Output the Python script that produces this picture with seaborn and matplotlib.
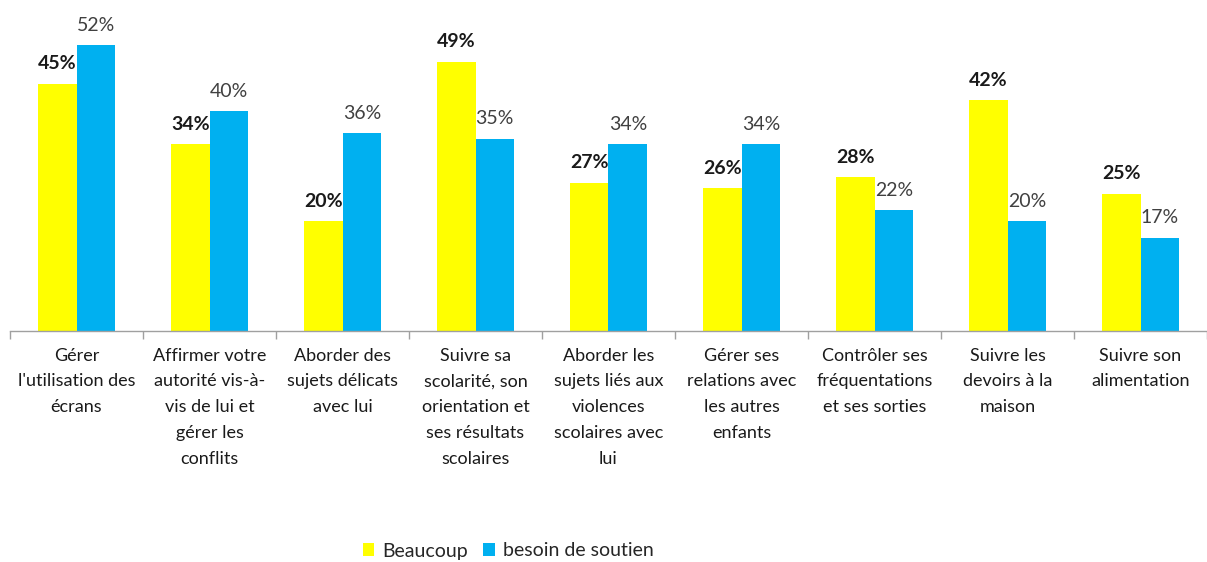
import matplotlib
matplotlib.use("Agg")
import matplotlib.pyplot as plt
import seaborn as sns
import pandas as pd
from matplotlib.patches import Patch

categories = [
    "Gérer\nl'utilisation des\nécrans",
    "Affirmer votre\nautorité vis-à-\nvis de lui et\ngérer les\nconflits",
    "Aborder des\nsujets délicats\navec lui",
    "Suivre sa\nscolarité, son\norientation et\nses résultats\nscolaires",
    "Aborder les\nsujets liés aux\nviolences\nscolaires avec\nlui",
    "Gérer ses\nrelations avec\nles autres\nenfants",
    "Contrôler ses\nfréquentations\net ses sorties",
    "Suivre les\ndevoirs à la\nmaison",
    "Suivre son\nalimentation",
]
beaucoup = [45, 34, 20, 49, 27, 26, 28, 42, 25]
soutien = [52, 40, 36, 35, 34, 34, 22, 20, 17]
series = ["Beaucoup", "besoin de soutien"]
colors = ["#FFFF00", "#00B0F0"]

df = pd.DataFrame({
    "cat": categories * 2,
    "serie": [series[0]] * len(categories) + [series[1]] * len(categories),
    "val": beaucoup + soutien,
})

sns.set_style("white")
plt.rcParams["font.family"] = ["Lato", "DejaVu Sans"]

fig = plt.figure(figsize=(12.07, 5.62), dpi=100)
ax = fig.add_axes([10 / 1207, 1 - 331 / 562, 1 - 10 / 1207, 331 / 562])

sns.barplot(data=df, x="cat", y="val", hue="serie", palette=colors,
            width=0.58, gap=0, saturation=1, legend=False, linewidth=0, ax=ax)

for i, cont in enumerate(ax.containers):
    if i == 0:
        ax.bar_label(cont, labels=[f"{v}%" for v in beaucoup], padding=8,
                     fontsize=14, fontweight="bold", color="#1a1a1a")
    else:
        ax.bar_label(cont, labels=[f"{v}%" for v in soutien], padding=8,
                     fontsize=14, color="#404040")

ax.set_ylim(0, 60.2)
ax.set_xlim(-0.5, len(categories) - 0.5)
ax.set_xlabel("")
ax.set_ylabel("")
ax.set_yticks([])
for s in ["top", "right", "left"]:
    ax.spines[s].set_visible(False)
ax.spines["bottom"].set_color("#a0a0a0")
ax.spines["bottom"].set_linewidth(1)

ax.set_xticks(range(len(categories)))
ax.set_xticklabels(categories, fontsize=13, linespacing=1.75, color="#1a1a1a")
ax.tick_params(axis="x", which="major", length=0, pad=12)
ax.set_xticks([i - 0.5 for i in range(len(categories) + 1)], minor=True)
ax.tick_params(axis="x", which="minor", length=6, color="#a0a0a0", width=1,
               direction="out", bottom=True)

handles = [Patch(facecolor=c, edgecolor="none") for c in colors]
fig.legend(handles, series, loc="center", bbox_to_anchor=(508 / 1207, 1 - 551 / 562),
           ncol=2, frameon=False, fontsize=14, handlelength=0.6, handleheight=0.6,
           handletextpad=0.4, columnspacing=0.8, borderpad=0)

fig.savefig("out.png", dpi=100)
